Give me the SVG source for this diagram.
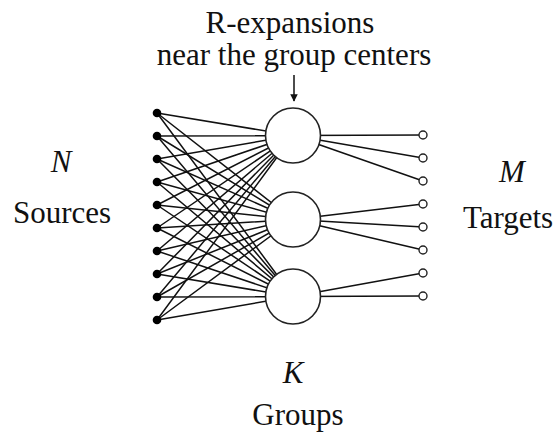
<svg xmlns="http://www.w3.org/2000/svg" width="557" height="441" viewBox="0 0 557 441">
<defs>
<style>
.i{font-style:italic}
.ln{stroke:#111;stroke-width:1.5;fill:none}
.grp{fill:#fff;stroke:#222;stroke-width:1.6}
.src{fill:#000}
.tgt{fill:#fff;stroke:#222;stroke-width:1.4}
</style>
<marker id="ah" viewBox="0 0 10 10" refX="9" refY="5" markerWidth="5" markerHeight="5" orient="auto"><path d="M0,0 L10,5 L0,10 z" fill="#111"/></marker>
</defs>
<rect width="557" height="441" fill="#fff"/>
<g id="connectors" class="ln">
<path d="M157,113L293,135.5M157,136L293,135.5M157,159L293,135.5M157,182L293,135.5M157,205L293,135.5M157,228L293,135.5M157,251L293,135.5M157,274L293,135.5M157,297L293,135.5M157,320L293,135.5"/>
<path d="M157,113L293,219.5M157,136L293,219.5M157,159L293,219.5M157,182L293,219.5M157,205L293,219.5M157,228L293,219.5M157,251L293,219.5M157,274L293,219.5M157,297L293,219.5M157,320L293,219.5"/>
<path d="M157,113L293,296.5M157,136L293,296.5M157,159L293,296.5M157,182L293,296.5M157,205L293,296.5M157,228L293,296.5M157,251L293,296.5M157,274L293,296.5M157,297L293,296.5M157,320L293,296.5"/>
<path d="M293,135.5L423,135M293,135.5L423,158M293,135.5L423,181"/>
<path d="M293,219.5L423,204M293,219.5L423,227M293,219.5L423,250"/>
<path d="M293,296.5L423,273M293,296.5L423,296"/>
<path d="M294,75L294,101" marker-end="url(#ah)"/>
</g>
<g id="groups">
<g id="group1"><circle class="grp" cx="293" cy="135.5" r="27.5"/></g>
<g id="group2"><circle class="grp" cx="293" cy="219.5" r="27.5"/></g>
<g id="group3"><circle class="grp" cx="293" cy="296.5" r="27.5"/></g>
</g>
<g id="sources">
<circle class="src" cx="157" cy="113" r="4.3"/><circle class="src" cx="157" cy="136" r="4.3"/><circle class="src" cx="157" cy="159" r="4.3"/><circle class="src" cx="157" cy="182" r="4.3"/><circle class="src" cx="157" cy="205" r="4.3"/><circle class="src" cx="157" cy="228" r="4.3"/><circle class="src" cx="157" cy="251" r="4.3"/><circle class="src" cx="157" cy="274" r="4.3"/><circle class="src" cx="157" cy="297" r="4.3"/><circle class="src" cx="157" cy="320" r="4.3"/>
</g>
<g id="targets">
<circle class="tgt" cx="423" cy="135" r="4"/><circle class="tgt" cx="423" cy="158" r="4"/><circle class="tgt" cx="423" cy="181" r="4"/><circle class="tgt" cx="423" cy="204" r="4"/><circle class="tgt" cx="423" cy="227" r="4"/><circle class="tgt" cx="423" cy="250" r="4"/><circle class="tgt" cx="423" cy="273" r="4"/><circle class="tgt" cx="423" cy="296" r="4"/>
</g>
<g id="labels" font-family="Liberation Serif, Times New Roman, serif" font-size="31" fill="#111" text-anchor="middle">
<text x="290" y="33">R-expansions</text>
<text x="294" y="65">near the group centers</text>
<text class="i" x="61" y="172">N</text>
<text x="62" y="223">Sources</text>
<text class="i" x="512" y="182">M</text>
<text x="508" y="228">Targets</text>
<text class="i" x="293" y="383">K</text>
<text x="298" y="425">Groups</text>
</g>
</svg>
